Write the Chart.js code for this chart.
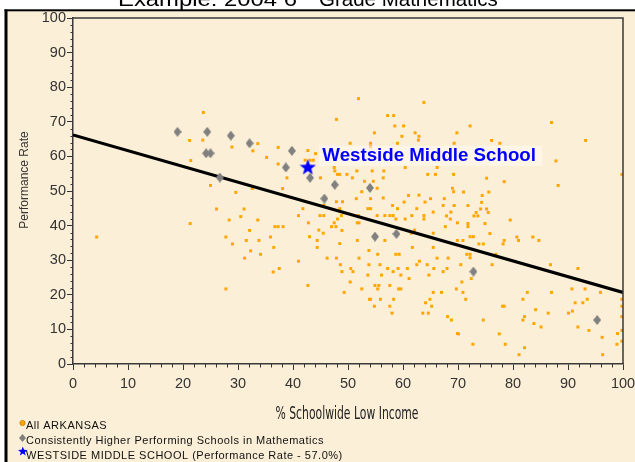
<!DOCTYPE html>
<html>
<head>
<meta charset="utf-8">
<script src="https://cdn.jsdelivr.net/npm/chart.js@4.4.1/dist/chart.umd.min.js"></script>
<style>
html,body{margin:0;padding:0;background:#fff;}
#wrap{position:relative;width:635px;height:462px;}
canvas{display:block;}
</style>
</head>
<body>
<div id="wrap"><canvas id="c" width="635" height="462"></canvas></div>
<script>
// ---- DATA ----
const chartTitleA = "Example: 2004 6";
const chartTitleSup = "th";
const chartTitleB = "Grade Mathematics";
const xAxisTitle = "% Schoolwide Low Income";
const yAxisTitle = "Performance Rate";
const xTickValues = [0,10,20,30,40,50,60,70,80,90,100];
const yTickValues = [0,10,20,30,40,50,60,70,80,90,100];
const legendLabels = ["All ARKANSAS", "Consistently Higher Performing Schools in Mathematics", "WESTSIDE MIDDLE SCHOOL (Performance Rate - 57.0%)"];
const highlightLabel = "Westside Middle School";

// All Arkansas schools [x = % low income, y = performance rate]
const allArkansas = [
[23.7,72.7],[21.2,64.6],[23.6,64.7],[28.9,62.7],[33.6,63.7],[32.7,61.6],[35.2,59.7],[37.3,62.6],[37.3,57.8],[21.4,58.8],
[25.0,51.6],[29.6,49.6],[32.6,50.7],[38.1,50.7],[26.1,44.8],[31.1,44.8],[28.4,41.6],[30.5,42.6],[33.6,41.6],[21.3,40.6],
[4.3,36.7],[36.7,39.7],[37.3,39.7],[32.1,38.6],[27.8,36.7],[31.5,35.7],[33.8,35.7],[35.9,36.7],[29.0,34.7],[36.5,33.7],
[32.3,32.7],[34.1,31.7],[31.2,30.6],[37.5,27.6],[36.4,26.6],[27.8,21.7],
[51.9,76.7],[63.8,75.6],[57.2,71.8],[58.3,71.8],[47.9,70.7],[58.5,68.8],[60.1,68.8],[54.8,66.8],[62.2,66.8],[59.8,65.8],
[62.9,65.8],[69.8,66.8],[50.4,63.8],[54.1,63.8],[54.1,62.8],[59.0,63.8],[62.8,64.7],[69.3,63.8],[42.7,61.7],[44.1,60.8],
[42.2,58.9],[43.1,58.9],[43.7,58.9],[47.5,56.8],[47.6,55.8],[51.6,55.8],[54.4,55.8],[56.5,55.8],[60.4,56.8],[66.2,56.8],
[38.9,53.8],[45.0,53.8],[48.1,54.8],[48.5,54.8],[49.8,54.8],[50.8,53.8],[53.0,52.8],[54.6,52.8],[56.4,53.8],[64.5,54.8],
[65.9,54.8],[69.2,54.8],[52.5,49.8],[55.3,50.8],[51.5,47.8],[54.1,47.8],[56.4,48.0],[61.0,48.7],[62.9,48.8],[65.0,47.8],
[67.5,47.8],[69.0,50.8],[69.2,49.8],[47.9,46.9],[49.0,46.9],[60.2,46.8],[64.0,46.8],[41.8,44.9],[45.6,45.9],[48.5,44.9],
[53.6,44.9],[54.1,44.9],[58.1,45.8],[59.0,44.9],[62.5,44.9],[67.3,45.8],[68.7,43.9],[69.3,45.8],[41.0,42.9],[44.9,42.9],
[45.6,42.9],[48.1,41.9],[48.8,42.9],[51.9,42.9],[55.3,42.9],[56.7,42.9],[57.6,42.9],[58.2,42.9],[58.7,41.9],[60.4,41.9],
[61.6,42.9],[63.8,42.9],[63.8,41.9],[65.5,43.9],[67.9,42.8],[68.6,41.9],[38.2,39.7],[42.8,40.8],[44.7,38.7],[45.5,37.8],
[47.0,39.7],[47.5,40.8],[48.9,38.6],[47.8,39.7],[51.7,40.8],[52.0,40.8],[61.5,37.8],[62.1,38.7],[65.5,37.8],[67.7,39.7],
[69.9,40.8],[43.0,36.8],[44.4,35.7],[48.5,34.8],[51.7,35.7],[56.7,35.7],[61.7,33.7],[65.5,33.7],[69.9,35.7],[44.4,33.7],
[53.8,32.8],[55.4,31.7],[58.7,31.7],[59.3,31.7],[46.2,30.6],[47.9,30.6],[52.0,30.6],[63.0,29.7],[62.5,28.7],[64.4,28.7],
[66.2,30.6],[68.2,30.6],[41.0,29.7],[48.6,28.7],[53.8,28.7],[55.8,28.7],[50.5,27.6],[57.2,27.6],[59.1,27.6],[60.8,27.6],
[65.6,27.6],[67.3,26.7],[68.0,27.6],[48.9,26.7],[50.9,26.7],[53.6,25.7],[56.1,25.7],[58.2,26.7],[59.6,25.7],[64.7,25.7],
[61.1,24.7],[50.4,23.7],[42.7,22.7],[54.9,22.7],[55.6,22.7],[57.6,22.7],[55.4,21.7],[52.5,21.7],[59.2,21.7],[59.6,21.7],
[49.3,20.7],[65.5,20.7],[67.0,20.7],[69.7,21.7],[53.9,18.7],[54.1,18.7],[55.9,18.7],[58.3,18.7],[64.1,17.7],[64.9,18.7],
[54.8,16.7],[57.6,16.7],[65.2,16.7],[63.6,14.7],[64.6,14.7],[58.0,14.7],[68.1,13.7],[68.8,12.7],[69.9,8.8],
[72.2,68.8],[87.0,69.8],[76.1,64.6],[77.6,63.8],[93.2,64.6],[87.8,58.7],[99.8,54.8],[75.2,53.7],[78.4,52.7],[88.2,51.6],
[71.0,49.7],[75.6,49.7],[74.4,48.7],[74.3,46.7],[71.8,45.8],[74.1,44.8],[75.2,44.8],[73.3,43.8],[75.5,43.8],[72.9,42.8],
[73.6,42.8],[71.8,40.6],[71.8,39.7],[74.9,40.6],[79.5,41.6],[75.8,37.7],[72.2,36.8],[72.8,36.8],[70.9,35.7],[73.8,34.7],
[74.6,34.7],[78.4,35.7],[78.2,34.7],[80.7,36.7],[81.0,35.7],[83.6,36.7],[84.7,35.7],[71.6,31.7],[72.2,31.7],[76.9,31.7],
[72.2,30.7],[76.2,28.7],[70.5,28.7],[86.8,28.7],[91.8,27.6],[70.7,23.7],[72.4,24.7],[70.9,20.7],[82.6,20.7],[87.0,20.7],
[90.7,21.7],[93.1,21.7],[95.9,20.7],[99.8,18.7],[71.4,18.7],[81.8,18.7],[93.5,18.7],[91.3,17.7],[92.7,17.7],[78.1,16.7],
[78.4,16.7],[84.1,15.7],[82.1,13.7],[81.8,12.7],[74.6,12.7],[86.4,14.7],[90.1,14.7],[90.8,15.3],[83.8,11.7],[85.1,10.7],
[91.8,10.7],[93.8,9.7],[99.8,16.7],[99.8,13.7],[99.8,9.7],[99.8,6.6],[96.2,7.7],[99.0,8.8],[70.1,8.7],[77.5,8.7],
[72.7,5.7],[78.6,5.7],[82.1,4.7],[81.1,2.7],[96.3,2.7],[98.9,5.7]
];
// Consistently higher performing schools
const higherX = [19.0,24.4,28.7,32.1,24.2,25.0,26.7,39.8,38.7,43.1,47.6,54.0,45.7,54.9,58.8,72.8,95.3];
const higherY = [67.1,67.1,66.0,63.8,60.9,60.9,53.9,61.6,56.8,53.8,51.8,50.9,47.8,36.8,37.6,26.7,12.7];
// Westside Middle School
const westsideX = [42.7];
const westsideY = [57.0];
// Trend line end points
const trendX = [0, 100];
const trendY = [66.2, 20.7];

// ---- point style images ----
function makeDiamond(w, h, color){
  const c = document.createElement('canvas'); c.width = w; c.height = h;
  const g = c.getContext('2d');
  g.fillStyle = color; g.beginPath();
  g.moveTo(w/2, 0); g.lineTo(w, h/2); g.lineTo(w/2, h); g.lineTo(0, h/2); g.closePath(); g.fill();
  return c;
}
function starPath(g, cx, cy, ro, ri){
  g.beginPath();
  for (let i = 0; i < 10; i++){
    const r = i % 2 === 0 ? ro : ri;
    const a = -Math.PI/2 + i*Math.PI/5;
    const px = cx + r*Math.cos(a), py = cy + r*Math.sin(a);
    if (i === 0) g.moveTo(px, py); else g.lineTo(px, py);
  }
  g.closePath();
}
function makeStar(s, color){
  const c = document.createElement('canvas'); c.width = s; c.height = s;
  const g = c.getContext('2d');
  g.fillStyle = color; starPath(g, s/2, s/2 + 0.8, s/2, s/2*0.42); g.fill();
  return c;
}
const diamondImg = makeDiamond(8, 10, '#808080');
const starImg = makeStar(17, '#0000FF');

const BEIGE = '#FBEFD7';
const tickFont = {family: '"Liberation Sans", Arial, sans-serif', size: 14.5};

const decor = {
  id: 'decor',
  beforeDraw(chart){
    const ctx = chart.ctx;
    ctx.save();
    ctx.fillStyle = '#ffffff'; ctx.fillRect(0,0,635,462);
    ctx.fillStyle = BEIGE; ctx.fillRect(6,10,629,452);
    ctx.fillStyle = '#000';
    ctx.fillRect(4.5,9.5,3,453);
    ctx.fillRect(4.5,9.3,631,2);
    // title (cut off at top)
    ctx.fillStyle = '#000';
    ctx.textBaseline = 'alphabetic';
    ctx.font = '20.5px "Liberation Sans", Arial, sans-serif';
    const wA = ctx.measureText(chartTitleA).width;
    ctx.save(); ctx.translate(118, 6); ctx.scale(179 / wA, 1);
    ctx.textAlign = 'left'; ctx.fillText(chartTitleA, 0, 0); ctx.restore();
    ctx.font = '12px "Liberation Sans", Arial, sans-serif';
    ctx.textAlign = 'left'; ctx.fillText(chartTitleSup, 300, -2);
    ctx.font = '20.5px "Liberation Sans", Arial, sans-serif';
    ctx.fillText(chartTitleB, 319, 6);
    ctx.restore();
  },
  afterDraw(chart){
    const ctx = chart.ctx, a = chart.chartArea;
    const xs = chart.scales.x, ys = chart.scales.y;
    ctx.save();
    // plot box top/right
    ctx.strokeStyle = '#3a3a3a'; ctx.lineWidth = 1.5;
    ctx.beginPath();
    ctx.moveTo(a.left, a.top); ctx.lineTo(a.right, a.top); ctx.lineTo(a.right, a.bottom);
    ctx.stroke();
    // minor ticks
    ctx.lineWidth = 1; ctx.strokeStyle = '#333';
    ctx.beginPath();
    for (let v = 2; v < 100; v += 2){
      if (v % 10 === 0) continue;
      const px = Math.round(xs.getPixelForValue(v)) + 0.5;
      ctx.moveTo(px, a.bottom); ctx.lineTo(px, a.bottom + 3.5);
      const py = Math.round(ys.getPixelForValue(v)) + 0.5;
      ctx.moveTo(a.left - 2.5, py); ctx.lineTo(a.left, py);
    }
    ctx.stroke();
    // highlight label
    const sx = xs.getPixelForValue(westsideX[0]);
    const sy = ys.getPixelForValue(westsideY[0]);
    ctx.font = 'bold 18.7px "Liberation Sans", Arial, sans-serif';
    const lw = ctx.measureText(highlightLabel).width;
    ctx.fillStyle = 'rgba(255,250,240,0.55)';
    ctx.fillRect(sx + 11, sy - 21, lw + 10, 20);
    ctx.fillStyle = '#0000FF'; ctx.textAlign = 'left'; ctx.textBaseline = 'alphabetic';
    ctx.fillText(highlightLabel, sx + 14.5, sy - 6);
    // axis titles
    ctx.fillStyle = '#222';
    ctx.font = '16px "DejaVu Sans", sans-serif';
    const wx = ctx.measureText(xAxisTitle).width;
    ctx.save(); ctx.translate((a.left + a.right)/2 - 1, 419); ctx.scale(143 / wx, 1.05);
    ctx.textAlign = 'center'; ctx.fillText(xAxisTitle, 0, 0); ctx.restore();
    ctx.fillStyle = '#333';
    ctx.font = '12px "Liberation Sans", Arial, sans-serif';
    ctx.save(); ctx.translate(28, 180); ctx.rotate(-Math.PI/2);
    ctx.textAlign = 'center'; ctx.fillText(yAxisTitle, 0, 0); ctx.restore();
    // legend
    ctx.font = '11px "Liberation Sans", Arial, sans-serif';
    try { ctx.letterSpacing = '0.5px'; } catch(e) {}
    ctx.fillStyle = '#111'; ctx.textAlign = 'left';
    const base = [429.3, 444, 458.5];
    ctx.fillText(legendLabels[0], 26, base[0]);
    ctx.fillText(legendLabels[1], 26, base[1]);
    ctx.fillText(legendLabels[2], 26, base[2]);
    try { ctx.letterSpacing = '0px'; } catch(e) {}
    // legend icons
    ctx.fillStyle = '#FFA500'; ctx.strokeStyle = '#C77A00'; ctx.lineWidth = 0.8;
    ctx.beginPath(); ctx.arc(22.5, 423, 2.6, 0, Math.PI*2); ctx.fill(); ctx.stroke();
    ctx.drawImage(makeDiamond(7, 8, '#808080'), 19, 434);
    ctx.fillStyle = '#0000FF'; starPath(ctx, 22.8, 451.5, 5, 2.1); ctx.fill();
    ctx.restore();
  }
};

const ctx = document.getElementById('c').getContext('2d');
new Chart(ctx, {
  type: 'scatter',
  data: {
    datasets: [
      {
        label: legendLabels[2],
        data: westsideX.map((x,i)=>({x, y: westsideY[i]})),
        pointStyle: starImg, order: 1
      },
      {
        label: legendLabels[1],
        data: higherX.map((x,i)=>({x, y: higherY[i]})),
        pointStyle: diamondImg, order: 2
      },
      {
        label: 'trend',
        data: trendX.map((x,i)=>({x, y: trendY[i]})),
        showLine: true, borderColor: '#000', borderWidth: 3.2,
        pointRadius: 0, fill: false, order: 3
      },
      {
        label: legendLabels[0],
        data: allArkansas.map(p=>({x: p[0], y: p[1]})),
        pointStyle: 'rect', pointRadius: 2.1, borderWidth: 0,
        backgroundColor: '#FFA500', borderColor: '#FFA500', order: 4
      }
    ]
  },
  options: {
    responsive: false,
    devicePixelRatio: 1,
    animation: false,
    events: [],
    layout: {padding: {left: 0, top: 18, right: 12, bottom: 0}},
    plugins: {legend: {display: false}, title: {display: false}, tooltip: {enabled: false}},
    scales: {
      x: {
        type: 'linear', min: 0, max: 100,
        afterBuildTicks(s){ s.ticks = xTickValues.map(v=>({value: v})); },
        ticks: {font: tickFont, color: '#333', padding: 5, maxRotation: 0, autoSkip: false},
        grid: {drawOnChartArea: false, drawTicks: true, tickLength: 6, color: '#333', tickWidth: 1},
        border: {display: true, color: '#3a3a3a', width: 1.5},
        afterFit(s){ s.height = 98; s.paddingLeft = 0; s.paddingRight = 0; }
      },
      y: {
        type: 'linear', min: 0, max: 100,
        afterBuildTicks(s){ s.ticks = yTickValues.map(v=>({value: v})); },
        ticks: {font: tickFont, color: '#333', padding: 1, autoSkip: false},
        grid: {drawOnChartArea: false, drawTicks: true, tickLength: 6, color: '#333', tickWidth: 1},
        border: {display: true, color: '#3a3a3a', width: 1.5},
        afterFit(s){ s.width = 73; s.paddingTop = 0; s.paddingBottom = 0; }
      }
    }
  },
  plugins: [decor]
});
</script>
</body>
</html>
